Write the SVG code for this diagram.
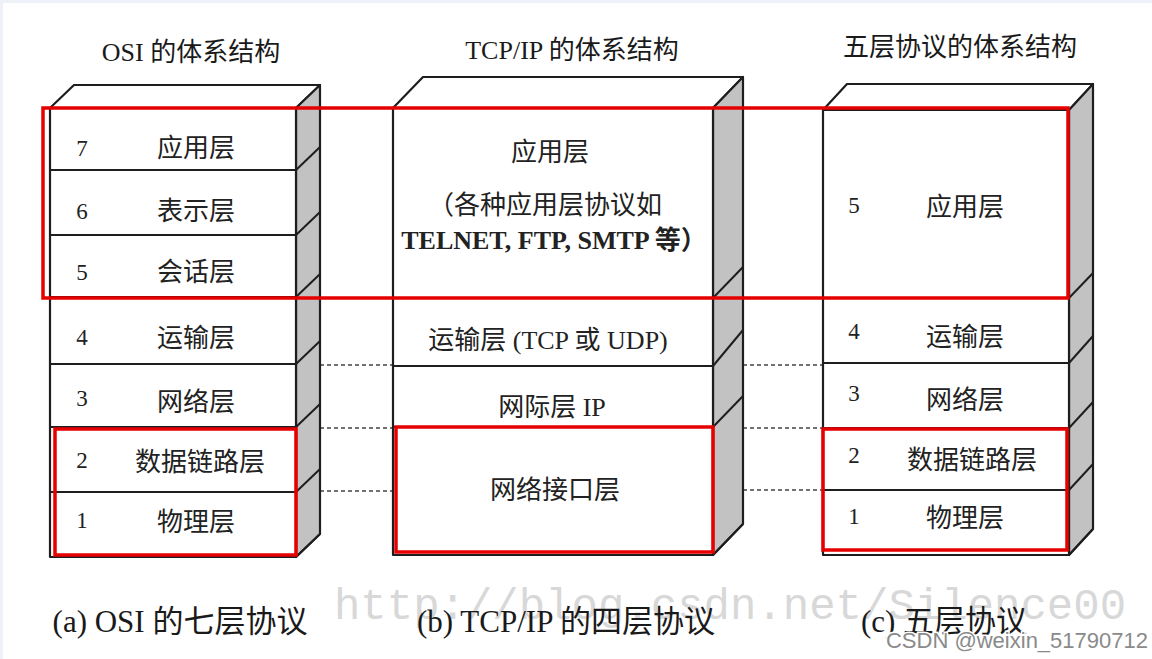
<svg xmlns="http://www.w3.org/2000/svg" width="1152" height="659" viewBox="0 0 1152 659">
<style>
.face{fill:#ffffff;stroke:#1e1e1e;stroke-width:2.2;stroke-linejoin:round}
.side{fill:#c2c2c2;stroke:#1e1e1e;stroke-width:2.2;stroke-linejoin:round}
.sep{stroke:#1e1e1e;stroke-width:2}
.t{font-family:"Liberation Serif","Noto Sans CJK SC",serif;font-size:26px;fill:#222;text-anchor:middle;dominant-baseline:central}
.n{font-family:"Liberation Serif",serif;font-size:23px;fill:#222;text-anchor:middle;dominant-baseline:central}
.title{font-family:"Liberation Serif","Noto Sans CJK SC",serif;font-size:26px;fill:#1a1a1a;text-anchor:middle;dominant-baseline:central}
.cap{font-family:"Liberation Serif","Noto Sans CJK SC",serif;font-size:31px;fill:#1a1a1a;text-anchor:middle;dominant-baseline:central}
.dash{stroke:#444;stroke-width:1.4;stroke-dasharray:4 3;fill:none}
.red{fill:none;stroke:#e60000;stroke-width:3.5}
</style>
<rect x="0" y="0" width="1152" height="659" fill="#ffffff"/>
<rect x="0" y="0" width="1152" height="3" fill="#eef2f8"/>
<rect x="0" y="0" width="3" height="659" fill="#eef2f8"/>

<text x="730" y="607" font-family="Liberation Mono,monospace" font-size="44" fill="#d8d8d8" text-anchor="middle" dominant-baseline="central">http://blog.csdn.net/Silence00</text>

<g id="titles">
<text class="title" x="191" y="52">OSI 的体系结构</text>
<text class="title" x="572" y="50">TCP/IP 的体系结构</text>
<text class="title" x="960" y="47">五层协议的体系结构</text>
</g>

<g id="connectors">
<line class="dash" x1="320" y1="365" x2="393" y2="365"/>
<line class="dash" x1="320" y1="428" x2="393" y2="428"/>
<line class="dash" x1="320" y1="491" x2="393" y2="491"/>
<line class="dash" x1="743" y1="365" x2="823" y2="365"/>
<line class="dash" x1="743" y1="428" x2="823" y2="428"/>
<line class="dash" x1="743" y1="490" x2="823" y2="490"/>
</g>

<g id="osi-stack">
<polygon class="face" points="50,108 74,85 320,85 296,108"/>
<polygon class="side" points="296,108 320,85 320,534 296,557"/>
<rect class="face" x="50" y="108" width="246" height="449"/>
<g class="sep">
<line x1="50" y1="170" x2="296" y2="170"/><line x1="296" y1="170" x2="320" y2="147"/>
<line x1="50" y1="235" x2="296" y2="235"/><line x1="296" y1="235" x2="320" y2="212"/>
<line x1="50" y1="297" x2="296" y2="297"/><line x1="296" y1="297" x2="320" y2="274"/>
<line x1="50" y1="364" x2="296" y2="364"/><line x1="296" y1="364" x2="320" y2="341"/>
<line x1="50" y1="427" x2="296" y2="427"/><line x1="296" y1="427" x2="320" y2="404"/>
<line x1="50" y1="492" x2="296" y2="492"/><line x1="296" y1="492" x2="320" y2="469"/>
<line x1="296" y1="557" x2="320" y2="534"/>
</g>
<g id="osi-7"><text class="n" x="82" y="148">7</text><text class="t" x="196" y="148">应用层</text></g>
<g id="osi-6"><text class="n" x="82" y="211">6</text><text class="t" x="196" y="211">表示层</text></g>
<g id="osi-5"><text class="n" x="82" y="272">5</text><text class="t" x="196" y="272">会话层</text></g>
<g id="osi-4"><text class="n" x="82" y="337">4</text><text class="t" x="196" y="338">运输层</text></g>
<g id="osi-3"><text class="n" x="82" y="398">3</text><text class="t" x="196" y="402">网络层</text></g>
<g id="osi-2"><text class="n" x="82" y="460">2</text><text class="t" x="200" y="462">数据链路层</text></g>
<g id="osi-1"><text class="n" x="82" y="520">1</text><text class="t" x="196" y="522">物理层</text></g>
</g>

<g id="tcpip-stack">
<polygon class="face" points="393,108 423,77 743,77 713,108"/>
<polygon class="side" points="713,108 743,77 743,524 713,555"/>
<rect class="face" x="393" y="108" width="320" height="447"/>
<g class="sep">
<line x1="393" y1="298" x2="713" y2="298"/><line x1="713" y1="298" x2="743" y2="267"/>
<line x1="393" y1="366" x2="713" y2="366"/><line x1="713" y1="366" x2="743" y2="330"/>
<line x1="393" y1="427" x2="713" y2="427"/><line x1="713" y1="427" x2="743" y2="396"/>
<line x1="713" y1="555" x2="743" y2="524"/>
</g>
<g id="tcpip-app">
<text class="t" x="550" y="152">应用层</text>
<text class="t" x="545" y="205">（各种应用层协议如</text>
<text class="t" x="554" y="240" font-weight="bold">TELNET, FTP, SMTP 等）</text>
</g>
<g id="tcpip-transport"><text class="t" x="548" y="340">运输层 (TCP 或 UDP)</text></g>
<g id="tcpip-internet"><text class="t" x="552" y="407">网际层 IP</text></g>
<g id="tcpip-netif"><text class="t" x="555" y="490">网络接口层</text></g>
</g>

<g id="five-stack">
<polygon class="face" points="823,110 847,84 1093,84 1069,110"/>
<polygon class="side" points="1069,110 1093,84 1093,529 1069,555"/>
<rect class="face" x="823" y="110" width="246" height="445"/>
<g class="sep">
<line x1="823" y1="298" x2="1069" y2="298"/><line x1="1069" y1="298" x2="1093" y2="273"/>
<line x1="823" y1="363" x2="1069" y2="363"/><line x1="1069" y1="363" x2="1093" y2="336"/>
<line x1="823" y1="428" x2="1069" y2="428"/><line x1="1069" y1="428" x2="1093" y2="402"/>
<line x1="823" y1="490" x2="1069" y2="490"/><line x1="1069" y1="490" x2="1093" y2="464"/>
<line x1="1069" y1="555" x2="1093" y2="529"/>
</g>
<g id="five-5"><text class="n" x="854" y="205">5</text><text class="t" x="965" y="207">应用层</text></g>
<g id="five-4"><text class="n" x="854" y="331">4</text><text class="t" x="965" y="337">运输层</text></g>
<g id="five-3"><text class="n" x="854" y="393">3</text><text class="t" x="965" y="400">网络层</text></g>
<g id="five-2"><text class="n" x="854" y="455">2</text><text class="t" x="972" y="460">数据链路层</text></g>
<g id="five-1"><text class="n" x="854" y="516">1</text><text class="t" x="965" y="518">物理层</text></g>
</g>

<g id="highlights">
<rect class="red" x="43" y="108" width="1025" height="190"/>
<rect class="red" x="55" y="429" width="241" height="126"/>
<rect class="red" x="396" y="427" width="317" height="125"/>
<rect class="red" x="823" y="429" width="244" height="121"/>
</g>

<g id="captions">
<text class="cap" x="180" y="621">(a) OSI 的七层协议</text>
<text class="cap" x="566" y="621">(b) TCP/IP 的四层协议</text>
<text class="cap" x="944" y="621">(c) 五层协议</text>
</g>

<text x="1148" y="640" font-family="Liberation Sans,sans-serif" font-size="22" fill="#8a8a8a" text-anchor="end" dominant-baseline="central" stroke="#ffffff" stroke-width="3" paint-order="stroke">CSDN @weixin_51790712</text>
</svg>
